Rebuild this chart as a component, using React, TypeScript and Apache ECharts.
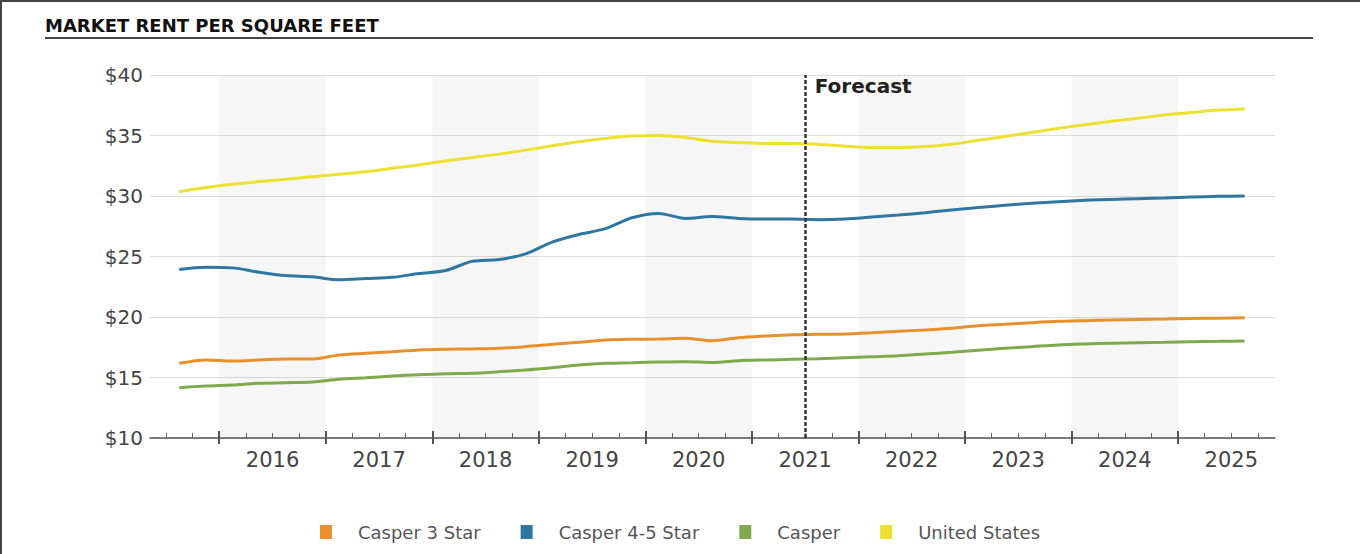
import React, { useEffect, useRef } from 'react';
import * as echarts from 'echarts';

// ---------- data ----------
const quarterLabels: string[] = [
  '2015 Q3', '2015 Q4',
  '2016 Q1', '2016 Q2', '2016 Q3', '2016 Q4',
  '2017 Q1', '2017 Q2', '2017 Q3', '2017 Q4',
  '2018 Q1', '2018 Q2', '2018 Q3', '2018 Q4',
  '2019 Q1', '2019 Q2', '2019 Q3', '2019 Q4',
  '2020 Q1', '2020 Q2', '2020 Q3', '2020 Q4',
  '2021 Q1', '2021 Q2', '2021 Q3', '2021 Q4',
  '2022 Q1', '2022 Q2', '2022 Q3', '2022 Q4',
  '2023 Q1', '2023 Q2', '2023 Q3', '2023 Q4',
  '2024 Q1', '2024 Q2', '2024 Q3', '2024 Q4',
  '2025 Q1', '2025 Q2', '2025 Q3',
];

const casper3Star: number[] = [
  16.17, 16.45, 16.36, 16.45, 16.53, 16.53, 16.86, 17.0, 17.13, 17.27,
  17.33, 17.36, 17.41, 17.55, 17.74, 17.91, 18.1, 18.16, 18.18, 18.24,
  18.04, 18.29, 18.43, 18.54, 18.57, 18.6, 18.7, 18.82, 18.93, 19.07,
  19.28, 19.4, 19.53, 19.64, 19.7, 19.75, 19.8, 19.83, 19.88, 19.9, 19.93,
];
const casper45Star: number[] = [
  23.92, 24.11, 24.06, 23.7, 23.42, 23.32, 23.07, 23.18, 23.28, 23.59,
  23.84, 24.61, 24.75, 25.22, 26.19, 26.82, 27.3, 28.2, 28.56, 28.15,
  28.3, 28.15, 28.1, 28.1, 28.04, 28.1, 28.26, 28.42, 28.62, 28.84,
  29.04, 29.23, 29.4, 29.53, 29.64, 29.72, 29.78, 29.84, 29.92, 29.97, 30.0,
];
const casperAll: number[] = [
  14.16, 14.3, 14.38, 14.52, 14.57, 14.63, 14.85, 14.98, 15.12, 15.23,
  15.31, 15.35, 15.48, 15.62, 15.81, 16.03, 16.17, 16.22, 16.28, 16.31,
  16.25, 16.39, 16.45, 16.5, 16.55, 16.64, 16.72, 16.8, 16.94, 17.08,
  17.25, 17.41, 17.55, 17.69, 17.77, 17.83, 17.88, 17.91, 17.96, 17.99, 18.02,
];
const unitedStates: number[] = [
  30.36, 30.7, 30.97, 31.19, 31.38, 31.6, 31.8, 32.0, 32.3, 32.57,
  32.9, 33.18, 33.46, 33.79, 34.15, 34.48, 34.76, 34.95, 35.0, 34.84,
  34.52, 34.43, 34.34, 34.34, 34.28, 34.12, 34.01, 34.01, 34.1, 34.28,
  34.6, 34.92, 35.25, 35.59, 35.89, 36.17, 36.42, 36.7, 36.9, 37.1, 37.2,
];

const seriesNames = ['Casper 3 Star', 'Casper 4-5 Star', 'Casper', 'United States'];
const seriesColors = ['#E8902C', '#2F77A0', '#7DAA4C', '#EDE030'];
const yearLabels: number[] = [2016, 2017, 2018, 2019, 2020, 2021, 2022, 2023, 2024, 2025];
const shadedYears: number[] = [2016, 2018, 2020, 2022, 2024];
const forecastStart = '2021 Q3';
const yTicks = { min: 10, max: 40, interval: 5 };
const titleText = 'MARKET RENT PER SQUARE FEET';

// ---------- helpers ----------
const qStart = (label: string) => {
  const [y, q] = label.split(' Q');
  return Number(y) + (Number(q) - 1) / 4;
};
const qCenter = (label: string) => qStart(label) + 0.125;

const X_MIN = 2015.35;
const X_MAX = 2025.91;

const quarterBoundaries: number[] = [];
for (let y = 2015; y <= 2025; y++) {
  for (let q = 0; q < 4; q++) {
    const v = y + q / 4;
    if (v >= X_MIN && v <= X_MAX) quarterBoundaries.push(v);
  }
}
const yearBoundaries = quarterBoundaries.filter((v) => Math.abs(v - Math.round(v)) < 1e-9);
const yearCenters = yearLabels.map((y) => y + 0.5);

const toPairs = (vals: number[]) => vals.map((v, i) => [qCenter(quarterLabels[i]), v]);

const FONT = 'DejaVu Sans';

export default function App() {
  const ref = useRef<HTMLDivElement>(null);

  useEffect(() => {
    if (!ref.current) return;
    const chart = echarts.init(ref.current, undefined, { renderer: 'svg' });

    const baseX = {
      type: 'value' as const,
      min: X_MIN,
      max: X_MAX,
      position: 'bottom' as const,
      splitLine: { show: false },
    };

    const valuesList = [casper3Star, casper45Star, casperAll, unitedStates];

    chart.setOption({
      animation: false,
      textStyle: { fontFamily: FONT },
      grid: { left: 150, right: 85, top: 75, bottom: 116, containLabel: false },
      legend: {
        data: seriesNames.map((n) => ({ name: n, icon: 'rect' })),
        left: 'center',
        top: 518,
        itemWidth: 12,
        itemHeight: 14,
        itemGap: 40,
        textStyle: { fontFamily: FONT, fontSize: 18, color: '#555', padding: [0, 0, 0, 21] },
      },
      xAxis: [
        {
          ...baseX,
          axisLine: { show: true, lineStyle: { color: '#555', width: 1.5 } },
          axisTick: {
            show: true,
            inside: true,
            length: 5,
            customValues: quarterBoundaries,
            lineStyle: { color: '#666', width: 1 },
          },
          axisLabel: {
            show: true,
            customValues: yearCenters,
            formatter: (v: number) => String(Math.floor(v)),
            fontFamily: FONT,
            fontSize: 21,
            color: '#444',
            margin: 11,
          },
        },
        {
          ...baseX,
          axisLine: { show: false },
          axisTick: {
            show: true,
            inside: false,
            length: 6,
            customValues: yearBoundaries,
            lineStyle: { color: '#555', width: 2 },
          },
          axisLabel: { show: false },
        },
        {
          ...baseX,
          axisLine: { show: false },
          axisTick: {
            show: true,
            inside: true,
            length: 7,
            customValues: yearBoundaries,
            lineStyle: { color: '#555', width: 2 },
          },
          axisLabel: { show: false },
        },
      ],
      yAxis: {
        type: 'value',
        min: yTicks.min,
        max: yTicks.max,
        interval: yTicks.interval,
        axisLine: { show: false },
        axisTick: { show: false },
        splitLine: { show: true, lineStyle: { color: '#dedede', width: 1 } },
        axisLabel: {
          formatter: (v: number) => '$' + v,
          fontFamily: FONT,
          fontSize: 20,
          color: '#444',
          margin: 7,
        },
      },
      series: [
        {
          name: '__bands',
          type: 'line',
          data: [],
          z: 1,
          silent: true,
          markArea: {
            silent: true,
            itemStyle: { color: 'rgba(0,0,0,0.035)' },
            data: shadedYears.map((y) => [{ xAxis: y }, { xAxis: y + 1 }]),
          },
        },
        ...seriesNames.map((name, i) => ({
          name,
          type: 'line',
          data: toPairs(valuesList[i]),
          showSymbol: false,
          smooth: 0.3,
          color: seriesColors[i],
          lineStyle: { color: seriesColors[i], width: 3 },
          z: 3,
        })),
        {
          name: '__forecast',
          type: 'line',
          data: [],
          z: 10,
          silent: true,
          markLine: {
            silent: true,
            symbol: 'none',
            lineStyle: { color: '#333', width: 2.5, type: [4, 2] },
            label: {
              show: true,
              position: 'end',
              formatter: 'Forecast',
              fontFamily: FONT,
              fontWeight: 'bold',
              fontSize: 20,
              color: '#222',
              offset: [58, 26],
            },
            data: [{ xAxis: qStart(forecastStart) }],
          },
        },
      ],
      graphic: [
        {
          type: 'text',
          left: 45,
          top: 16,
          style: {
            text: titleText,
            fontFamily: FONT,
            fontWeight: 'bold',
            fontSize: 18,
            fill: '#111',
          },
        },
        {
          type: 'line',
          shape: { x1: 45, y1: 38, x2: 1313, y2: 38 },
          style: { stroke: '#444', lineWidth: 2 },
        },
        {
          type: 'line',
          shape: { x1: 0, y1: 1, x2: 1360, y2: 1 },
          style: { stroke: '#444', lineWidth: 2 },
        },
        {
          type: 'line',
          shape: { x1: 1, y1: 0, x2: 1, y2: 554 },
          style: { stroke: '#444', lineWidth: 2 },
        },
      ],
    });

    return () => chart.dispose();
  }, []);

  return (
    <div
      ref={ref}
      style={{ position: 'fixed', left: 0, top: 0, width: 1360, height: 554, background: '#fff' }}
    />
  );
}
